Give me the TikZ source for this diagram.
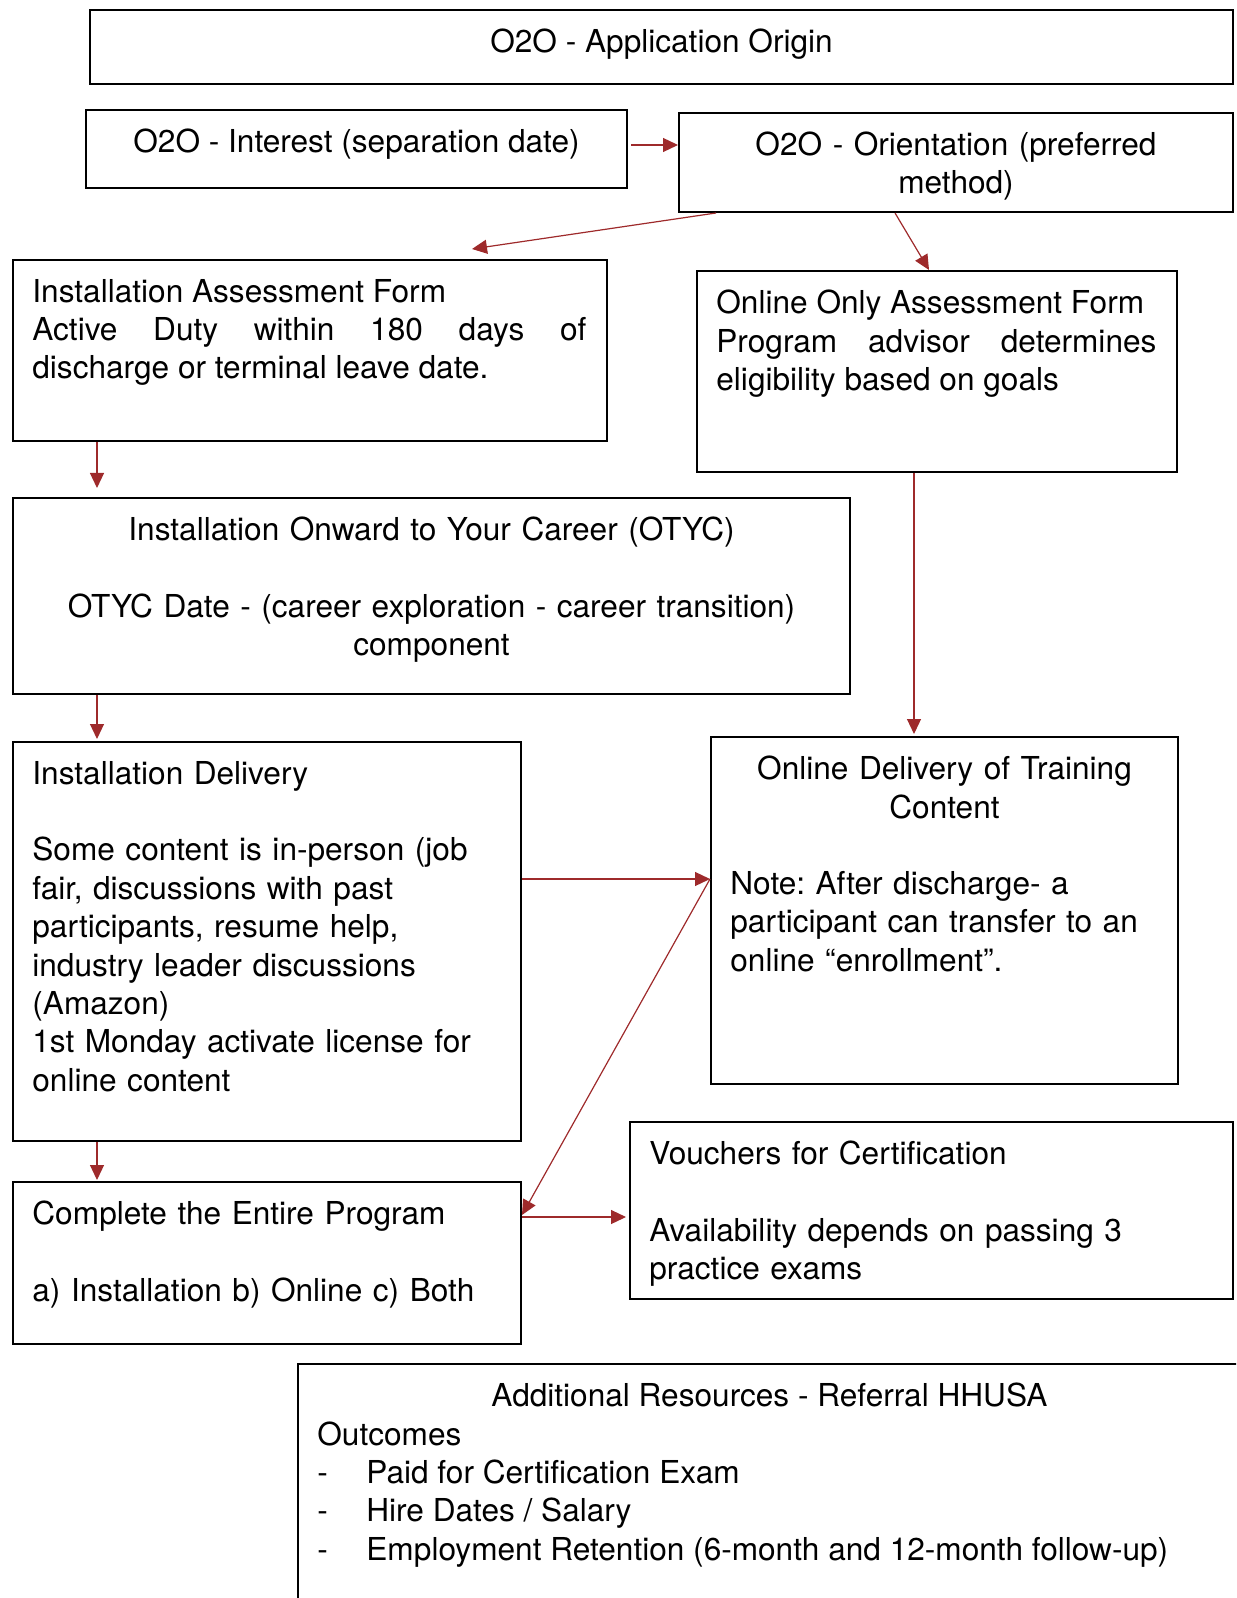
\documentclass[tikz,border=0pt]{standalone}
\usepackage{fontspec}
\setmainfont{TeX Gyre Heros}
\usetikzlibrary{arrows.meta}
\definecolor{arrowred}{RGB}{158,42,43}
\frenchspacing

\begin{document}
\begin{tikzpicture}[x=0.5pt,y=-0.5pt,
  box/.style={draw, line width=1pt, anchor=north west, inner sep=0pt},
  txt/.style={inner sep=0pt, font=\fontsize{15.8}{19.2}\selectfont},
  arr/.style={draw=arrowred, line width=0.6pt, -{Triangle[length=7.5pt,width=7pt]}}]

\clip (0,0) rectangle (1236,1598);

%boxes
\node[box, minimum width=571.5pt, minimum height=37pt] (origin) at (89,9) {};
\node[box, minimum width=270.5pt, minimum height=39pt] (interest) at (85,109) {};
\node[box, minimum width=277pt, minimum height=49.5pt] (orient) at (678,112) {};
\node[box, minimum width=297pt, minimum height=90.5pt] (assess) at (12,259) {};
\node[box, minimum width=240pt, minimum height=100.5pt] (online) at (696,270) {};
\node[box, minimum width=418.5pt, minimum height=98pt] (otyc) at (12,497) {};
\node[box, minimum width=254pt, minimum height=199.5pt] (inst) at (12,741) {};
\node[box, minimum width=233.5pt, minimum height=173.5pt] (odeliv) at (710,736) {};
\node[box, minimum width=254pt, minimum height=81pt] (complete) at (12,1181) {};
\node[box, minimum width=301.5pt, minimum height=88.5pt] (vouch) at (629,1121) {};
\node[box, minimum width=471.5pt, minimum height=123.5pt] (resources) at (297,1363) {};

%texts
\node[txt, anchor=north] (origin-t) at ([yshift=-9.8pt]origin.north) {O2O - Application Origin};
\node[txt, anchor=north] (interest-t) at ([yshift=-9.8pt]interest.north) {O2O - Interest (separation date)};
\node[txt, anchor=north, text width=257pt, align=center] (orient-t) at ([yshift=-9.8pt]orient.north)
  {O2O - Orientation (preferred\\method)};
\node[txt, anchor=north west, text width=277pt, align=justify] (assess-t) at ([xshift=10pt,yshift=-9.8pt]assess.north west)
  {Installation Assessment Form\\Active Duty within 180 days of\linebreak discharge or terminal leave date.};
\node[txt, anchor=north west, text width=220pt, align=justify] (online-t) at ([xshift=10pt,yshift=-9.8pt]online.north west)
  {Online Only Assessment Form\\Program advisor determines\linebreak eligibility based on goals};
\node[txt, anchor=north, text width=398.5pt, align=center] (otyc-t) at ([yshift=-9.8pt]otyc.north)
  {Installation Onward to Your Career (OTYC)\\[19.2pt]OTYC Date - (career exploration - career transition)\\component};
\node[txt, anchor=north west, text width=234pt, align=left] (inst-t) at ([xshift=10pt,yshift=-9.8pt]inst.north west)
  {Installation Delivery\\[19.2pt]Some content is in-person (job\\fair, discussions with past\\participants, resume help,\\industry leader discussions\\(Amazon)\\1st Monday activate license for\\online content};
\node[txt, anchor=north, text width=213.5pt, align=center] (odeliv-t) at ([yshift=-9.8pt]odeliv.north)
  {Online Delivery of Training\\Content};
\node[txt, anchor=north west, text width=213.5pt, align=left] (odeliv-n) at ([xshift=10pt,yshift=-67.4pt]odeliv.north west)
  {Note: After discharge- a\\participant can transfer to an\\online “enrollment”.};
\node[txt, anchor=north west, text width=234pt, align=left] (complete-t) at ([xshift=10pt,yshift=-9.8pt]complete.north west)
  {Complete the Entire Program\\[19.2pt]a) Installation b) Online c) Both};
\node[txt, anchor=north west, text width=281.5pt, align=left] (vouch-t) at ([xshift=10pt,yshift=-9.8pt]vouch.north west)
  {Vouchers for Certification\\[19.2pt]Availability depends on passing 3\\practice exams};
\node[txt, anchor=north] (resources-t) at ([yshift=-9.8pt]resources.north) {Additional Resources - Referral HHUSA};
\node[txt, anchor=north west, align=left] (resources-n) at ([xshift=10pt,yshift=-29pt]resources.north west)
  {Outcomes\\\makebox[24.5pt][l]{-}Paid for Certification Exam\\\makebox[24.5pt][l]{-}Hire Dates / Salary\\\makebox[24.5pt][l]{-}Employment Retention (6-month and 12-month follow-up)};

%arrows
\coordinate (bc) at ([yshift=2pt]interest.east);
\draw[arr, shorten <=1.5pt] (bc) -- (bc -| orient.west);
\draw[arr] ([xshift=19pt]orient.south west) -- ([xshift=230pt,yshift=5pt]assess.north west);
\draw[arr] ([xshift=108.5pt]orient.south west) -- ([xshift=116.5pt]online.north west);

\coordinate (df) at ([xshift=42.5pt]assess.south west);
\draw[arr, shorten >=4.5pt] (df) -- (df |- otyc.north);
\coordinate (eh) at ([xshift=109pt]online.south west);
\draw[arr, shorten >=1pt] (eh) -- (eh |- odeliv.north);
\coordinate (fg) at ([xshift=42.5pt]otyc.south west);
\draw[arr, shorten >=1pt] (fg) -- (fg |- inst.north);

\coordinate (gh) at ([yshift=-69pt]inst.north east);
\draw[arr] (gh) -- (gh -| odeliv.west);
\draw[arr] (gh -| odeliv.west) -- ([yshift=-17pt]complete.north east);

\coordinate (gi) at ([xshift=42.5pt]inst.south west);
\draw[arr, shorten >=0.5pt] (gi) -- (gi |- complete.north);
\coordinate (ij) at ([yshift=-18pt]complete.north east);
\draw[arr, shorten >=1.5pt] (ij) -- (ij -| vouch.west);

\end{tikzpicture}
\end{document}
